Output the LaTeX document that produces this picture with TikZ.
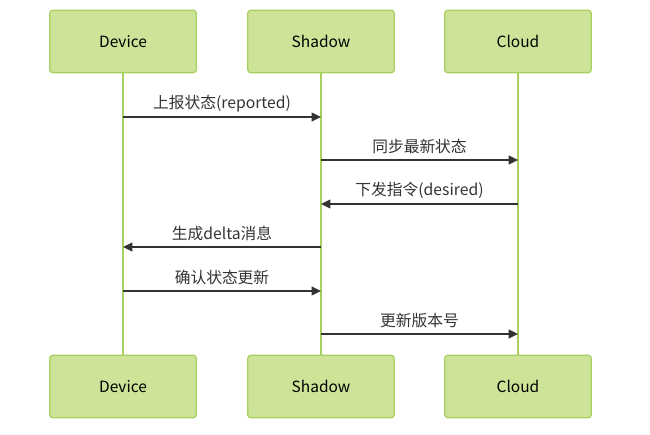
\documentclass[tikz,border=0pt]{standalone}
\usepackage{fontspec}
\setmainfont{Noto Sans CJK SC}
\usetikzlibrary{arrows.meta}
\definecolor{actorfill}{HTML}{CDE498}
\definecolor{actorline}{HTML}{A8D05E}
\definecolor{msgline}{HTML}{333333}

\begin{document}
\begin{tikzpicture}[x=0.75pt,y=-0.75pt,
  actor/.style={draw=actorline, fill=actorfill, line width=0.9pt, rounded corners=2.5pt,
    minimum width=110pt, minimum height=47pt, font=\fontsize{11.6}{13}\selectfont, text=black},
  lifeline/.style={draw=actorline, line width=1.3pt},
  msg/.style={draw=msgline, line width=1.1pt, -{Triangle[length=7pt,width=6.5pt]}},
  msglabel/.style={midway, yshift=10pt, font=\fontsize{11.8}{13}\selectfont, text=msgline}]
\useasboundingbox (0,0) rectangle (650,435);
% Participants
\node[actor] (devtop) at (123,41.5) {Device};
\node[actor] (shtop) at (321,41.5) {Shadow};
\node[actor] (cltop) at (518,41.5) {Cloud};
\node[actor] (devbot) at (123,386.5) {Device};
\node[actor] (shbot) at (321,386.5) {Shadow};
\node[actor] (clbot) at (518,386.5) {Cloud};
%
% Lifelines
\draw[lifeline] (devtop) -- (devbot);
\draw[lifeline] (shtop) -- (shbot);
\draw[lifeline] (cltop) -- (clbot);
%
% Messages
\draw[msg] (devtop.south |- 0,117) -- (shtop.south |- 0,117)
  node[msglabel] {上报状态(reported)};
\draw[msg] (shtop.south |- 0,160) -- (cltop.south |- 0,160)
  node[msglabel] {同步最新状态};
\draw[msg] (cltop.south |- 0,204) -- (shtop.south |- 0,204)
  node[msglabel] {下发指令(desired)};
\draw[msg] (shtop.south |- 0,247) -- (devtop.south |- 0,247)
  node[msglabel] {生成delta消息};
\draw[msg] (devtop.south |- 0,291) -- (shtop.south |- 0,291)
  node[msglabel] {确认状态更新};
\draw[msg] (shtop.south |- 0,334) -- (cltop.south |- 0,334)
  node[msglabel] {更新版本号};
\end{tikzpicture}
\end{document}
